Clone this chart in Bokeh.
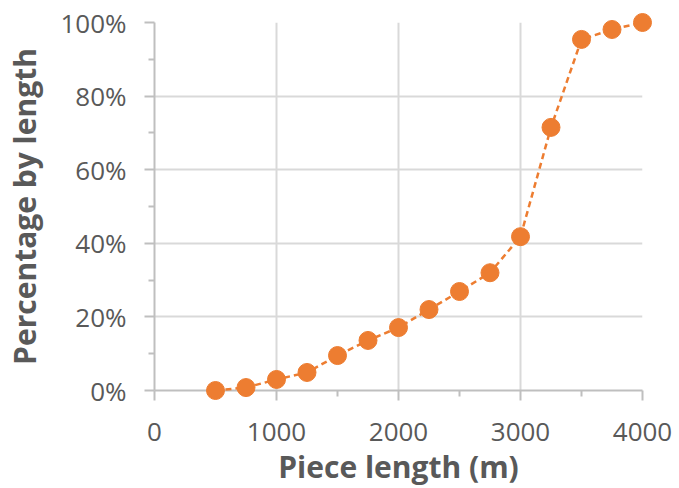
from bokeh.plotting import figure
from bokeh.models import FixedTicker, PrintfTickFormatter, Range1d
from bokeh.embed import file_html
from bokeh.resources import INLINE

# Data
piece_length = [500, 750, 1000, 1250, 1500, 1750, 2000, 2250, 2500, 2750, 3000, 3250, 3500, 3750, 4000]
percentage = [0.0, 0.8, 3.0, 4.9, 9.5, 13.6, 17.1, 22.0, 26.9, 32.0, 41.8, 71.5, 95.4, 98.1, 100.0]

x_major = [0, 1000, 2000, 3000, 4000]
x_minor = [500, 1500, 2500, 3500]
y_major = [0, 20, 40, 60, 80, 100]
y_minor = [10, 30, 50, 70, 90]

ORANGE = "#ED7D31"
TEXT = "#595959"
GRID = "#d9d9d9"
AXIS = "#bfbfbf"

p = figure(
    frame_width=488, frame_height=368,
    min_border_left=154, min_border_right=37, min_border_top=22, min_border_bottom=98,
    x_range=Range1d(0, 4000), y_range=Range1d(0, 100),
    output_backend="svg", toolbar_location=None,
)
p.outline_line_color = None
p.background_fill_color = "white"
p.border_fill_color = "white"

p.line(piece_length, percentage, line_color=ORANGE, line_width=2.5, line_dash="6 4", level="overlay")
p.scatter(piece_length, percentage, size=18, fill_color=ORANGE, line_color=ORANGE, line_width=1, level="overlay")

p.xaxis.ticker = FixedTicker(ticks=x_major, minor_ticks=x_minor)
p.yaxis.ticker = FixedTicker(ticks=y_major, minor_ticks=y_minor)
p.yaxis.formatter = PrintfTickFormatter(format="%d%%")

p.xaxis.axis_label = "Piece length (m)"
p.yaxis.axis_label = "Percentage by length"

for ax in (p.xaxis, p.yaxis):
    ax.axis_line_color = AXIS
    ax.axis_line_width = 2
    ax.major_tick_line_color = AXIS
    ax.major_tick_line_width = 2
    ax.minor_tick_line_color = AXIS
    ax.minor_tick_line_width = 2
    ax.major_tick_in = 0
    ax.major_tick_out = 10
    ax.minor_tick_in = 0
    ax.minor_tick_out = 6
    ax.major_label_text_font = "Open Sans"
    ax.major_label_text_font_size = "26px"
    ax.major_label_text_color = TEXT
    ax.axis_label_text_font = "Open Sans"
    ax.axis_label_text_font_size = "30px"
    ax.axis_label_text_font_style = "bold"
    ax.axis_label_text_color = TEXT

p.xaxis.major_label_standoff = 22
p.xaxis.axis_label_standoff = 2
p.yaxis.major_label_standoff = 18
p.yaxis.axis_label_standoff = 12

p.xgrid.grid_line_color = GRID
p.xgrid.grid_line_width = 2
p.ygrid.grid_line_color = GRID
p.ygrid.grid_line_width = 2

open("out.html", "w").write(file_html(p, INLINE))
